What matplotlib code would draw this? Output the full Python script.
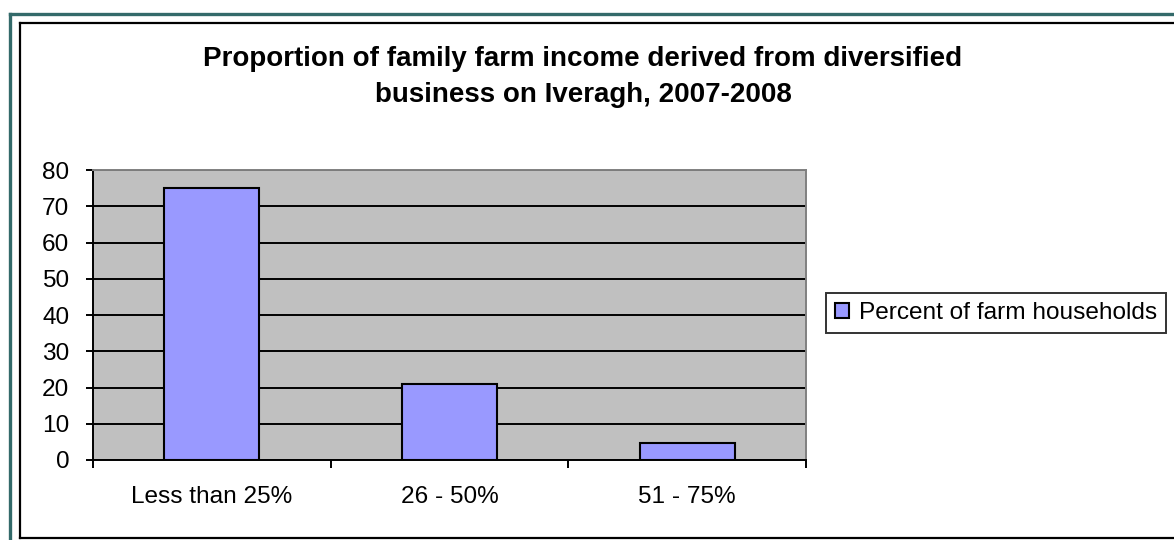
import matplotlib
matplotlib.use("Agg")
import matplotlib.pyplot as plt
from matplotlib.lines import Line2D
import numpy as np

# data
categories = ["Less than 25%", "26 - 50%", "51 - 75%"]
percent_households = [75, 21, 4.7]
series_name = "Percent of farm households"
title_lines = ["Proportion of family farm income derived from diversified",
               "business on Iveragh, 2007-2008"]

W, H = 1174, 540
plt.rcParams["font.family"] = ["Liberation Sans", "DejaVu Sans"]
fs = 17.6
title_fs = 20

fig = plt.figure(figsize=(W / 100, H / 100), dpi=100)
fig.patch.set_facecolor("white")


def fx(px):
    return px / W


def fy(py):
    return 1 - py / H


# outer frames (teal sheet border and black chart border)
fig.add_artist(Line2D([fx(10), fx(10)], [fy(14), fy(545)], color="#336a6a", lw=2.4, transform=fig.transFigure))
fig.add_artist(Line2D([fx(10), fx(1180)], [fy(14), fy(14)], color="#336a6a", lw=2.4, transform=fig.transFigure))
fig.add_artist(Line2D([fx(20), fx(20)], [fy(23), fy(538)], color="black", lw=1.6, transform=fig.transFigure))
fig.add_artist(Line2D([fx(20), fx(1180)], [fy(23), fy(23)], color="black", lw=1.6, transform=fig.transFigure))
fig.add_artist(Line2D([fx(20), fx(1180)], [fy(538), fy(538)], color="black", lw=1.6, transform=fig.transFigure))

ax = fig.add_axes([fx(93), fy(460), fx(806) - fx(93), fy(170) - fy(460)])
ax.set_facecolor("#c0c0c0")

x = np.arange(len(categories))
ax.bar(x, percent_households, width=0.4, color="#9999ff", edgecolor="black",
       linewidth=1.5, zorder=3, label=series_name)

ax.set_xlim(-0.5, len(categories) - 0.5)
ax.set_ylim(0, 80)
ax.set_yticks(np.arange(0, 81, 10))
ax.yaxis.grid(True, color="black", linewidth=1.4, zorder=1)
ax.set_axisbelow(True)

ax.set_xticks(np.arange(-0.5, len(categories), 1.0))
ax.set_xticklabels([])
ax.set_xticks(x, minor=True)
ax.set_xticklabels(categories, minor=True)
ax.tick_params(axis="x", which="major", direction="out", length=6, width=1.4, color="black")
ax.tick_params(axis="x", which="minor", length=0, pad=19, labelsize=fs)
ax.tick_params(axis="y", direction="out", length=5, width=1.4, pad=12, labelsize=fs)

for side in ["left", "bottom"]:
    ax.spines[side].set_color("black")
    ax.spines[side].set_linewidth(1.4)
for side in ["top", "right"]:
    ax.spines[side].set_color("#808080")
    ax.spines[side].set_linewidth(1.4)

fig.text(fx(583), fy(66), title_lines[0], ha="center", va="baseline",
         fontsize=title_fs, fontweight="bold")
fig.text(fx(583), fy(102), title_lines[1], ha="center", va="baseline",
         fontsize=title_fs, fontweight="bold")

leg = fig.legend(loc="center left", bbox_to_anchor=(fx(826), fy(313)),
                 fontsize=fs, frameon=True, fancybox=False, handlelength=0.6,
                 handleheight=0.6, handletextpad=0.4, borderpad=0.35,
                 borderaxespad=0)
leg.get_frame().set_edgecolor("black")
leg.get_frame().set_linewidth(1.4)

fig.savefig("out.png", dpi=100)
